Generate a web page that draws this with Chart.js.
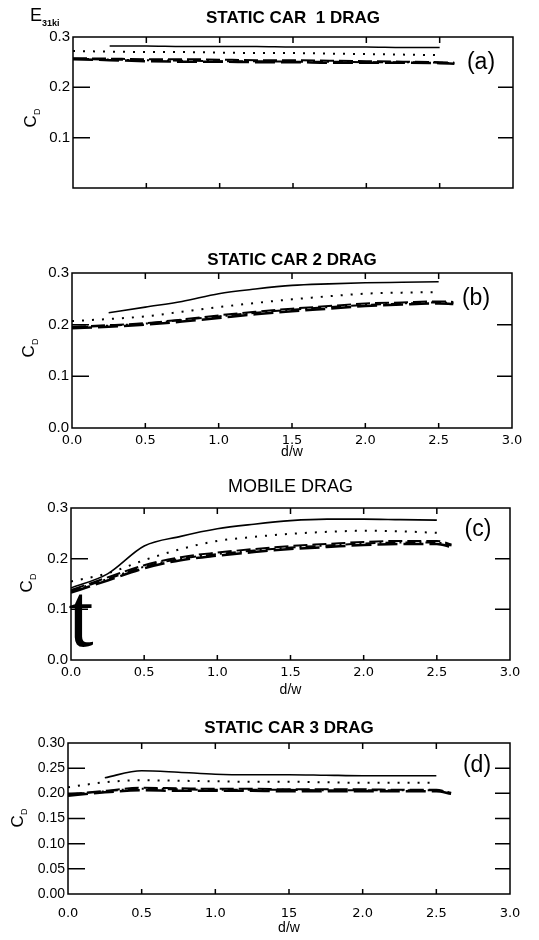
<!DOCTYPE html>
<html>
<head>
<meta charset="utf-8">
<script src="https://cdn.jsdelivr.net/npm/chart.js@4.4.0/dist/chart.umd.min.js"></script>
<style>
  body { margin: 0; background: #fff; }
  #page { position: relative; width: 539px; height: 940px; overflow: hidden; font-family: "Liberation Sans", Arial, sans-serif; color: #000; }
  canvas { position: absolute; left: 0; }
  .lbl { position: absolute; transform: translate(-50%, -50%); white-space: nowrap; line-height: 1; }
  .cd { transform: translate(-50%, -50%) rotate(-90deg); font-size: 17px; }
  .cd sub { font-size: 9px; }
  .tag { font-size: 23px; }
</style>
</head>
<body>
<div id="page">
  <canvas id="chartA" width="539" height="200" style="top:0px"></canvas>
  <canvas id="chartB" width="539" height="230" style="top:235px"></canvas>
  <canvas id="chartC" width="539" height="238" style="top:462px"></canvas>
  <canvas id="chartD" width="539" height="240" style="top:700px"></canvas>

  <div class="lbl" style="left:30px;top:6px;transform:none;font-size:18px">E<sub style="font-size:9px;font-weight:bold">31ki</sub></div>

  <div class="lbl cd" style="left:32px;top:118px">C<sub>D</sub></div>
  <div class="lbl cd" style="left:30px;top:348px">C<sub>D</sub></div>
  <div class="lbl cd" style="left:28px;top:583px">C<sub>D</sub></div>
  <div class="lbl cd" style="left:19px;top:818px">C<sub>D</sub></div>

  <div class="lbl tag" style="left:481px;top:61px">(a)</div>
  <div class="lbl tag" style="left:476px;top:297px">(b)</div>
  <div class="lbl tag" style="left:478px;top:528px">(c)</div>
  <div class="lbl tag" style="left:477px;top:764px">(d)</div>

  <div class="lbl" style="left:81px;top:616px;font-family:'Liberation Serif',serif;font-size:90px">t</div>
</div>
<script>
// spacing d/w where the curves were read
const dw = [0, 0.25, 0.5, 0.75, 1.0, 1.25, 1.5, 1.75, 2.0, 2.25, 2.5, 2.6];

// (a) static car 1
const car1Solid    = [null, .282, .282, .281, .281, .281, .280, .280, .280, .279, .279, null];
const car1Dotted   = [.272, .271, .270, .270, .269, .268, .268, .267, .266, .265, .264, null];
const car1Dashed   = [.258, .257, .256, .256, .255, .254, .254, .253, .252, .251, .250, .249];
const car1DashDot  = [.257, .255, .254, .253, .252, .252, .251, .251, .250, .250, .249, .248];
const car1LongDash = [.256, .254, .252, .251, .251, .250, .250, .249, .249, .249, .248, .247];

// (b) static car 2
const car2Solid    = [null, .223, .234, .245, .260, .269, .276, .279, .281, .282, .283, null];
const car2Dotted   = [.207, .211, .216, .225, .234, .242, .249, .255, .260, .262, .263, null];
const car2Dashed   = [.196, .199, .203, .210, .218, .225, .231, .236, .241, .243, .245, .244];
const car2DashDot  = [.195, .198, .202, .209, .216, .223, .229, .234, .238, .241, .243, .242];
const car2LongDash = [.193, .196, .200, .206, .213, .220, .226, .231, .236, .239, .241, .240];

// (c) mobile
const mobSolid     = [.142, .170, .225, .244, .259, .268, .275, .278, .278, .277, .276, null];
const mobDotted    = [.155, .171, .197, .219, .235, .243, .249, .253, .255, .254, .251, null];
const mobDashed    = [.138, .163, .187, .203, .212, .219, .225, .229, .233, .235, .235, .228];
const mobDashDot   = [.136, .160, .184, .200, .209, .216, .222, .226, .230, .232, .232, .226];
const mobLongDash  = [.133, .157, .181, .197, .206, .213, .219, .223, .227, .229, .229, .223];

// (d) static car 3
const car3Solid    = [null, .231, .245, .242, .238, .237, .237, .236, .235, .235, .235, null];
const car3Dotted   = [.212, .222, .226, .225, .224, .223, .223, .222, .221, .221, .221, null];
const car3Dashed   = [.198, .205, .211, .210, .209, .209, .208, .208, .208, .207, .207, .201];
const car3DashDot  = [.197, .204, .209, .208, .207, .207, .207, .206, .206, .206, .206, .200];
const car3LongDash = [.195, .202, .206, .205, .205, .205, .204, .204, .204, .204, .204, .199];

// tick labels
const xTickVals = [0, 0.5, 1.0, 1.5, 2.0, 2.5, 3.0];
const xTickLabels = ['0.0', '0.5', '1.0', '1.5', '2.0', '2.5', '3.0'];
const xTickLabelsD = ['0.0', '0.5', '1.0', '15', '2.0', '2.5', '3.0'];
const yTickVals = [0, 0.1, 0.2, 0.3];
const yTickLabelsA = ['', '0.1', '0.2', '0.3'];
const yTickLabels = ['0.0', '0.1', '0.2', '0.3'];
const yTickValsD = [0, 0.05, 0.10, 0.15, 0.20, 0.25, 0.30];
const yTickLabelsD = ['0.00', '0.05', '0.10', '0.15', '0.20', '0.25', '0.30'];

// box round the plot plus inward tick marks
const framePlugin = {
  id: 'frame',
  afterDraw(chart) {
    const ctx = chart.ctx, a = chart.chartArea;
    const xs = chart.scales.x, ys = chart.scales.y;
    ctx.save();
    ctx.strokeStyle = '#000';
    ctx.lineWidth = 1.5;
    ctx.strokeRect(a.left, a.top, a.right - a.left, a.bottom - a.top);
    ys.ticks.forEach(t => {
      if (t.value <= ys.min || t.value >= ys.max) return;
      const py = ys.getPixelForValue(t.value);
      ctx.beginPath();
      ctx.moveTo(a.left, py); ctx.lineTo(a.left + 17, py);
      ctx.moveTo(a.right, py); ctx.lineTo(a.right - 15, py);
      ctx.stroke();
    });
    xs.ticks.forEach(t => {
      if (t.value <= xs.min || t.value >= xs.max) return;
      const px = xs.getPixelForValue(t.value);
      ctx.beginPath();
      ctx.moveTo(px, a.top); ctx.lineTo(px, a.top + 6);
      ctx.moveTo(px, a.bottom); ctx.lineTo(px, a.bottom - 5);
      ctx.stroke();
    });
    ctx.restore();
  }
};

function series(vals, dash, width) {
  return {
    data: dw.map((x, i) => ({ x: x, y: vals[i] })),
    borderColor: '#000',
    borderWidth: width,
    borderDash: dash,
    pointRadius: 0,
    cubicInterpolationMode: 'monotone',
    spanGaps: false,
    fill: false
  };
}

function makeChart(id, p) {
  new Chart(document.getElementById(id), {
    type: 'line',
    data: {
      datasets: [
        series(p.solid, [], 1.6),
        series(p.dotted, [2, 8], 2),
        series(p.dashed, [14, 5], 2),
        series(p.dashDot, [10, 4, 2, 4], 2),
        series(p.longDash, [20, 6], 2.5)
      ]
    },
    options: {
      responsive: false,
      animation: false,
      devicePixelRatio: 1,
      layout: { padding: { left: 0, right: p.right, top: 0, bottom: 0 } },
      plugins: {
        legend: { display: false },
        tooltip: { enabled: false },
        title: {
          display: true,
          text: p.title,
          fullSize: false,
          color: '#000',
          font: { family: 'Liberation Sans', size: p.titleSize, weight: p.titleWeight, lineHeight: 1.2 },
          padding: p.titlePad
        }
      },
      scales: {
        x: {
          type: 'linear', min: 0, max: 3,
          afterBuildTicks: s => { s.ticks = xTickVals.map(v => ({ value: v })); },
          afterFit: s => { s.height = p.xHeight; },
          grid: { display: false, drawTicks: false },
          border: { display: false },
          ticks: {
            display: !!p.xLabels,
            autoSkip: false,
            maxRotation: 0,
            padding: p.xPad,
            color: '#000',
            font: { family: 'DejaVu Sans', size: 13 },
            callback: (v, i) => p.xLabels ? p.xLabels[i] : ''
          },
          title: {
            display: !!p.xLabels,
            text: 'd/w',
            color: '#000',
            font: { family: 'Liberation Sans', size: 14, lineHeight: 1.2 },
            padding: { top: 0, bottom: p.dwPad }
          }
        },
        y: {
          min: 0, max: 0.3,
          afterBuildTicks: s => { s.ticks = p.yVals.map(v => ({ value: v })); },
          afterFit: s => { s.width = p.left; },
          grid: { display: false, drawTicks: false },
          border: { display: false },
          ticks: {
            autoSkip: false,
            padding: 3,
            color: '#000',
            font: { family: 'Liberation Sans', size: p.ySize },
            callback: (v, i) => p.yLabels[i]
          }
        }
      }
    },
    plugins: [framePlugin]
  });
}

makeChart('chartA', {
  title: 'STATIC CAR  1 DRAG', titleSize: 17, titleWeight: 'bold', titlePad: { top: 8, bottom: 8.6 },
  left: 73, right: 26, xHeight: 5, xLabels: null, xPad: 0, dwPad: 0,
  yVals: yTickVals, yLabels: yTickLabelsA, ySize: 15,
  solid: car1Solid, dotted: car1Dotted, dashed: car1Dashed, dashDot: car1DashDot, longDash: car1LongDash
});

makeChart('chartB', {
  title: 'STATIC CAR 2 DRAG', titleSize: 17, titleWeight: 'bold', titlePad: { top: 14.8, bottom: 2.8 },
  left: 72, right: 27, xHeight: 37, xLabels: xTickLabels, xPad: 5, dwPad: 4.6,
  yVals: yTickVals, yLabels: yTickLabels, ySize: 15,
  solid: car2Solid, dotted: car2Dotted, dashed: car2Dashed, dashDot: car2DashDot, longDash: car2LongDash
});

makeChart('chartC', {
  title: 'MOBILE DRAG', titleSize: 18, titleWeight: 'normal', titlePad: { top: 14.2, bottom: 10.2 },
  left: 71, right: 29, xHeight: 40, xLabels: xTickLabels, xPad: 4.5, dwPad: 1.6,
  yVals: yTickVals, yLabels: yTickLabels, ySize: 15,
  solid: mobSolid, dotted: mobDotted, dashed: mobDashed, dashDot: mobDashDot, longDash: mobLongDash
});

makeChart('chartD', {
  title: 'STATIC CAR 3 DRAG', titleSize: 17, titleWeight: 'bold', titlePad: { top: 17.8, bottom: 4.8 },
  left: 68, right: 29, xHeight: 46, xLabels: xTickLabelsD, xPad: 12, dwPad: 3.6,
  yVals: yTickValsD, yLabels: yTickLabelsD, ySize: 14,
  solid: car3Solid, dotted: car3Dotted, dashed: car3Dashed, dashDot: car3DashDot, longDash: car3LongDash
});
</script>
</body>
</html>
